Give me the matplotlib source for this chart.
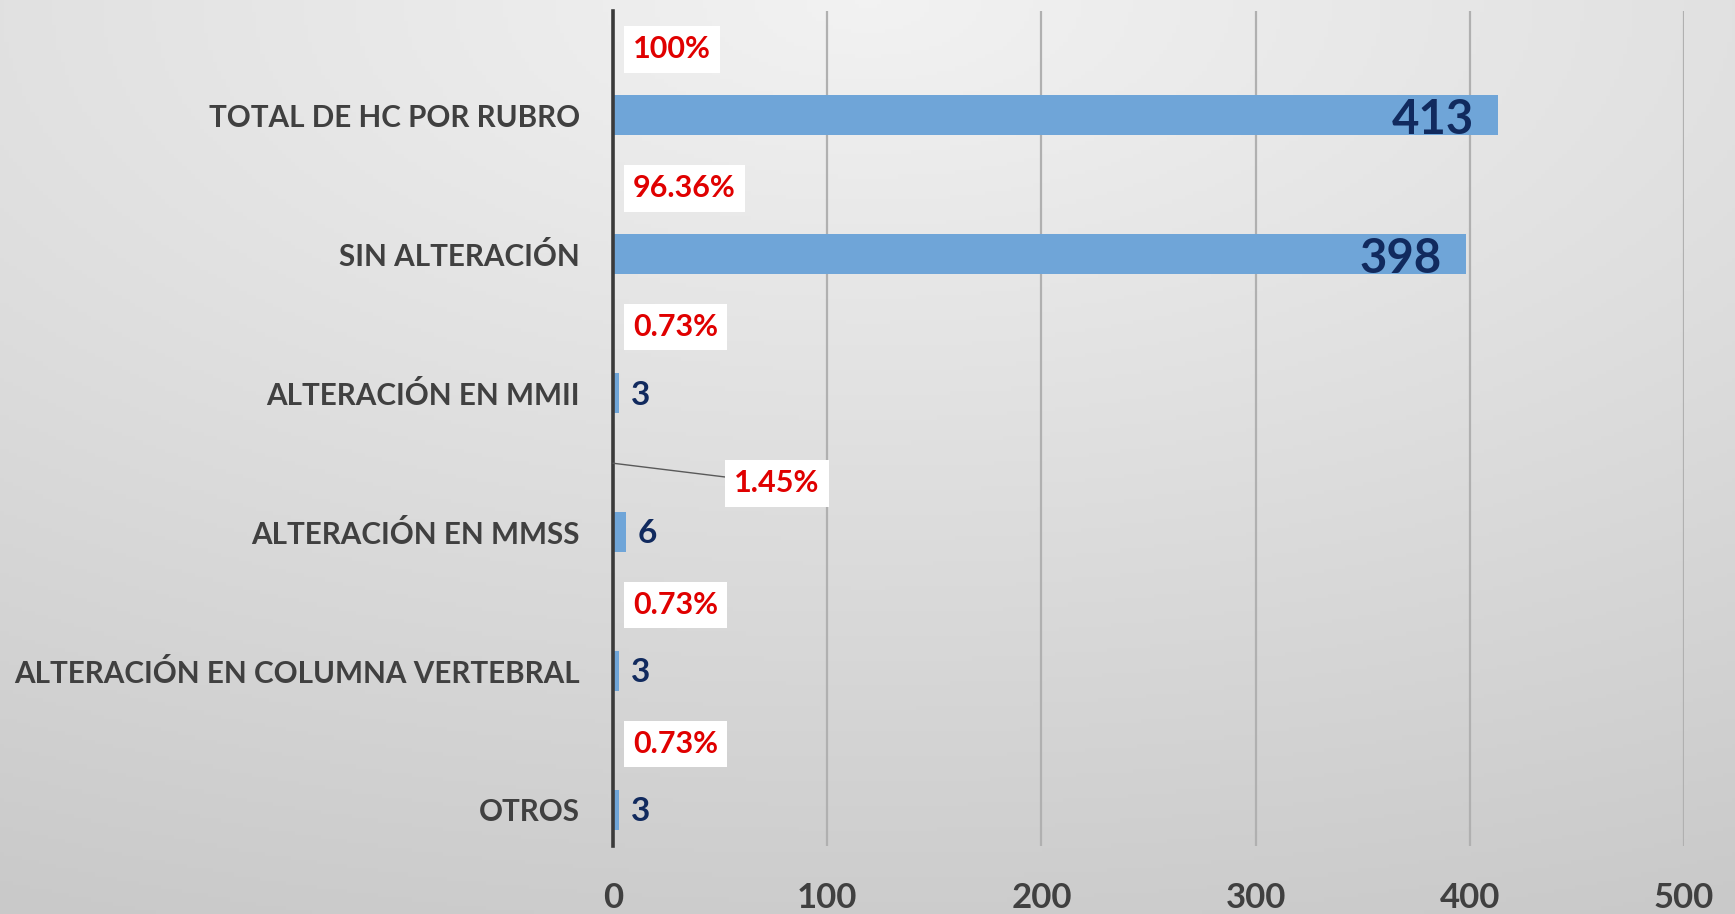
import matplotlib
matplotlib.use('Agg')
import matplotlib.pyplot as plt
import numpy as np

plt.rcParams['font.family'] = ['Lato', 'DejaVu Sans']
plt.rcParams['font.weight'] = 'bold'

categories = ['TOTAL DE HC POR RUBRO', 'SIN ALTERACIÓN', 'ALTERACIÓN EN MMII',
              'ALTERACIÓN EN MMSS', 'ALTERACIÓN EN COLUMNA VERTEBRAL', 'OTROS']
counts = [413, 398, 3, 6, 3, 3]
pct_labels = ['100%', '96.36%', '0.73%', '1.45%', '0.73%', '0.73%']
x_ticks = [0, 100, 200, 300, 400, 500]

bar_color = '#6fa5d8'
navy = '#112a5e'
text_gray = '#404040'

fig = plt.figure(figsize=(17.35, 9.14), dpi=100)

# soft gray background gradient, lighter near the top
bg = fig.add_axes([0, 0, 1, 1], zorder=-1)
gx, gy = np.meshgrid(np.linspace(0, 1, 400), np.linspace(0, 1, 220))
dist = np.sqrt(((gx - 0.5) * 1.1) ** 2 + (gy * 1.2) ** 2)
shade = 0.95 - 0.16 * np.clip(dist, 0, 1.3) / 1.3
bg.imshow(np.dstack([shade, shade, shade]), aspect='auto', extent=[0, 1, 0, 1])
bg.axis('off')

ax = fig.add_axes([0.3533, 0.0744, 0.6173, 0.9136])
ax.set_facecolor('none')

y = np.arange(len(categories))
ax.barh(y, counts, height=0.29, color=bar_color, zorder=3)

ax.set_xlim(0, 500)
ax.set_ylim(5.26, -0.75)
ax.set_xticks(x_ticks)
ax.set_yticks(y)
ax.set_yticklabels(categories)
ax.tick_params(axis='y', length=0, pad=24, labelsize=21.3, labelcolor=text_gray)
ax.tick_params(axis='x', length=0, pad=26, labelsize=25, labelcolor=text_gray)

for s in ['top', 'right', 'bottom']:
    ax.spines[s].set_visible(False)
ax.spines['left'].set_color('#3a3a3a')
ax.spines['left'].set_linewidth(2.6)
ax.spines['left'].set_zorder(5)

ax.grid(axis='x', color='#b0b0b0', linewidth=1.6, zorder=0)
ax.grid(axis='y', visible=False)

# count labels
for i, v in enumerate(counts):
    if v > 100:
        ax.annotate(str(v), xy=(v, i), xytext=(-24, -5), textcoords='offset pixels',
                    ha='right', va='center', fontsize=34, color=navy, zorder=6)
    else:
        ax.annotate(str(v), xy=(v, i), xytext=(12, -2), textcoords='offset pixels',
                    ha='left', va='center', fontsize=24, color=navy, zorder=6)

# percentage labels (second series, above each bar)
box = dict(boxstyle='square,pad=0.3', facecolor='white', edgecolor='none')
for i, lab in enumerate(pct_labels):
    if lab == '1.45%':
        ax.annotate(lab, xy=(0, i - 0.495), xytext=(76.6, i - 0.35),
                    textcoords='data', ha='center', va='center', fontsize=22,
                    color='#e00000', bbox=box, zorder=6,
                    arrowprops=dict(arrowstyle='-', color='#595959', lw=1,
                                    shrinkA=0, shrinkB=0))
    else:
        ax.annotate(lab, xy=(0, i - 0.495), xytext=(20, -3), textcoords='offset pixels',
                    ha='left', va='center', fontsize=22, color='#e00000',
                    bbox=box, zorder=6)

fig.savefig('out.png', dpi=100)
